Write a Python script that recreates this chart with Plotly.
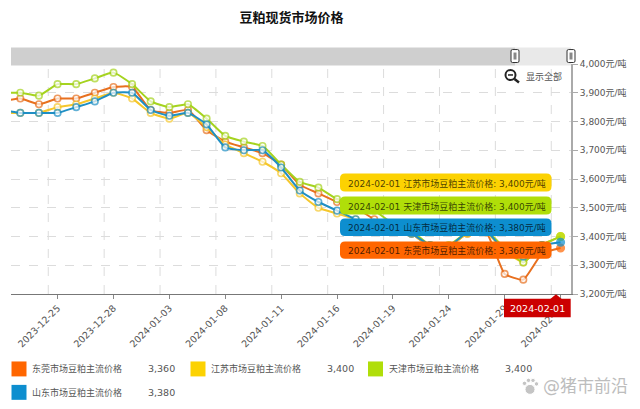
import plotly.graph_objects as go

dates = ["2023-12-20","2023-12-21","2023-12-22","2023-12-25","2023-12-26","2023-12-27","2023-12-28","2023-12-29",
         "2024-01-02","2024-01-03","2024-01-04","2024-01-05","2024-01-08","2024-01-09","2024-01-10","2024-01-11",
         "2024-01-12","2024-01-15","2024-01-16","2024-01-17","2024-01-18","2024-01-19","2024-01-22","2024-01-23",
         "2024-01-24","2024-01-25","2024-01-26","2024-01-29","2024-01-30","2024-01-31","2024-02-01"]
dongguan = [3870,3880,3860,3880,3880,3900,3920,3920,3840,3830,3840,3770,3730,3710,3690,3650,3580,3550,3520,
            3500,3460,3440,3410,3365,3365,3410,3415,3270,3250,3340,3360]
jiangsu = [3830,3830,3830,3850,3860,3880,3900,3880,3830,3810,3830,3780,3720,3690,3660,3620,3550,3500,3480,
           3460,3440,3430,3410,3365,3365,3410,3415,3350,3310,3370,3400]
tianjin = [3900,3900,3890,3930,3930,3950,3970,3930,3870,3850,3860,3810,3750,3730,3715,3650,3590,3570,3530,
           3510,3490,3445,3420,3370,3370,3415,3420,3360,3310,3370,3400]
shandong = [3840,3830,3830,3830,3850,3870,3900,3900,3840,3820,3830,3790,3710,3700,3700,3640,3560,3520,3490,
            3460,3440,3430,3410,3370,3365,3415,3420,3350,3330,3370,3380]
series_names = ["东莞市场豆粕主流价格","江苏市场豆粕主流价格","天津市场豆粕主流价格","山东市场豆粕主流价格"]
series_colors = ["#e8701f","#f5c72c","#a5d31f","#1f8fc4"]
swatch_colors = ["#ff6600","#fcd202","#b0de09","#0d8ecf"]
x_tick_dates = ["2023-12-25","2023-12-28","2024-01-03","2024-01-08","2024-01-11","2024-01-16","2024-01-19",
                "2024-01-24","2024-01-29","2024-02-01"]
y_ticks = [3200,3300,3400,3500,3600,3700,3800,3900,4000]

L, R, T, B = 11, 571, 63.5, 294.3
W, H = 640, 409
FONT = "DejaVu Sans, Noto Sans CJK SC"
def px(x): return (x - L) / (R - L)
def py(y): return (B - y) / (B - T)

fig = go.Figure()
all_values = [dongguan, jiangsu, tianjin, shandong]
for name, col, sw, vals in zip(series_names, series_colors, swatch_colors, all_values):
    fills = ["white"] * (len(vals) - 1) + [sw]
    lcols = [col] * (len(vals) - 1) + [sw]
    fig.add_trace(go.Scatter(x=dates, y=vals, name=name, mode="lines+markers",
                             line=dict(color=col, width=2, shape="spline", smoothing=0.45),
                             marker=dict(size=[6.5] * (len(vals) - 1) + [7.5], color=fills,
                                         line=dict(color=lcols, width=1.6)),
                             showlegend=False))

shapes, ann = [], []
GRID = "#dcdcdc"
for d in x_tick_dates:
    i = dates.index(d) - 0.5
    shapes.append(dict(type="line", xref="x", yref="paper", x0=i, x1=i, y0=0, y1=1, layer="below",
                       line=dict(color=GRID, width=1, dash="dash")))

def rrect(x0, y0, x1, y1, r, fill, line=None, lw=0):
    path = (f"M {px(x0+r)} {py(y0)} L {px(x1-r)} {py(y0)} Q {px(x1)} {py(y0)} {px(x1)} {py(y0+r)} "
            f"L {px(x1)} {py(y1-r)} Q {px(x1)} {py(y1)} {px(x1-r)} {py(y1)} L {px(x0+r)} {py(y1)} "
            f"Q {px(x0)} {py(y1)} {px(x0)} {py(y1-r)} L {px(x0)} {py(y0+r)} Q {px(x0)} {py(y0)} {px(x0+r)} {py(y0)} Z")
    return dict(type="path", xref="paper", yref="paper", path=path, fillcolor=fill,
                line=dict(color=line or fill, width=lw))
def rect(x0, y0, x1, y1, fill, line=None, lw=0):
    return dict(type="rect", xref="paper", yref="paper", x0=px(x0), x1=px(x1), y0=py(y1), y1=py(y0),
                fillcolor=fill, line=dict(color=line or fill, width=lw))
def text(x, y, s, size=9, color="#555555", anchor="left", **kw):
    return dict(xref="paper", yref="paper", x=px(x), y=py(y), text=s, showarrow=False, xanchor=anchor,
                yanchor="middle", font=dict(family=FONT, size=size, color=color), **kw)

shapes.append(rect(11, 47, 515, 65, "#cfcfcf"))
shapes.append(rect(515, 47, 571, 65, "#e9e9e9"))
for cx in (515, 571):
    shapes.append(rrect(cx - 4, 49, cx + 4, 62, 1.5, "#ffffff", "#333333", 1))
    shapes.append(rect(cx - 1.5, 52, cx + 1.5, 59, "#888888"))

shapes.append(dict(type="circle", xref="paper", yref="paper", x0=px(505.5), x1=px(515.5), y0=py(79.5), y1=py(69.5),
                   fillcolor="white", line=dict(color="#222222", width=2)))
shapes.append(dict(type="line", xref="paper", yref="paper", x0=px(514.5), x1=px(519), y0=py(78.5), y1=py(82),
                   line=dict(color="#222222", width=2.5)))
shapes.append(dict(type="line", xref="paper", yref="paper", x0=px(508), x1=px(513), y0=py(74.5), y1=py(74.5),
                   line=dict(color="#222222", width=1.5)))
ann.append(text(524, 76, "显示全部"))

tip_rows = [(1, 173.5, 191.5), (2, 196.5, 214.5), (3, 218.5, 236), (0, 241.5, 259)]
for idx, y0, y1 in tip_rows:
    shapes.append(rrect(340, y0, 551.5, y1, 5, swatch_colors[idx]))
    ann.append(text(346, (y0 + y1) / 2 + 0.5,
                    f"{dates[-1]} {series_names[idx]}: {all_values[idx][-1]:,}元/吨", color="rgba(0,0,0,0.72)"))

shapes.append(rect(504, 299, 570.7, 317.7, "#cc0000"))
shapes.append(dict(type="path", xref="paper", yref="paper",
                   path=f"M {px(550)} {py(299.5)} L {px(556)} {py(294.5)} L {px(562)} {py(299.5)} Z",
                   fillcolor="#cc0000", line=dict(color="#cc0000", width=0)))
ann.append(text(537.3, 308.5, dates[-1], size=9.5, color="white", anchor="center"))

legend_pos = [(11.5, 369.5, 177), (190.5, 369.5, 356), (368, 369.5, 534), (11.5, 393, 177)]
for (x, y, right), name, sw, vals in zip(legend_pos, series_names, swatch_colors, all_values):
    shapes.append(rect(x, y - 7.5, x + 15, y + 7.5, sw))
    ann.append(text(x + 18.5, y, name))
    ann.append(text(right, y, f"{vals[-1]:,}", size=9.5, anchor="right"))

for cx, cy, r in [(530, 390, 5), (524.5, 384, 2.2), (528.5, 381, 2.2), (533, 381, 2.2), (536.5, 384.5, 2.2)]:
    shapes.append(dict(type="circle", xref="paper", yref="paper", x0=px(cx - r), x1=px(cx + r), y0=py(cy + r),
                       y1=py(cy - r), fillcolor="#c4c4c4", line=dict(color="#ffffff", width=1)))
ann.append(text(541, 387, "@猪市前沿", size=17, color="#bdbdbd", anchor="left"))

fig.update_layout(
    width=W, height=H, margin=dict(l=L, r=W - R, t=T, b=H - B, autoexpand=False),
    paper_bgcolor="white", plot_bgcolor="white", showlegend=False, hovermode=False,
    title=dict(text="<b>豆粕现货市场价格</b>", x=291.5 / W, xanchor="center", y=1 - 17 / H, yanchor="middle",
               font=dict(family="Noto Sans CJK SC", size=13, color="#111111")),
    xaxis=dict(type="category", categoryorder="array", categoryarray=dates, range=[0.5, 30.56],
               tickmode="array", tickvals=x_tick_dates, ticktext=x_tick_dates, tickangle=-45,
               tickfont=dict(family=FONT, size=9.5, color="#555555"), ticks="outside", ticklen=4,
               tickcolor="#888888", showgrid=False, zeroline=False, showline=True, linecolor="#777777", linewidth=1),
    yaxis=dict(side="right", range=[3200, 4000], tickmode="array", tickvals=y_ticks,
               ticktext=[f"{v:,}元/吨" for v in y_ticks], tickfont=dict(family=FONT, size=9, color="#555555"),
               ticks="outside", ticklen=5, tickcolor="#aaaaaa", showgrid=True, gridcolor=GRID, griddash="dash",
               gridwidth=1, zeroline=False, showline=True, linecolor="#aaaaaa", linewidth=2),
    shapes=shapes, annotations=ann)
fig.write_html("out.html", config={"displayModeBar": False},
               post_script="document.body.style.margin='0';document.documentElement.style.overflow='hidden';")
